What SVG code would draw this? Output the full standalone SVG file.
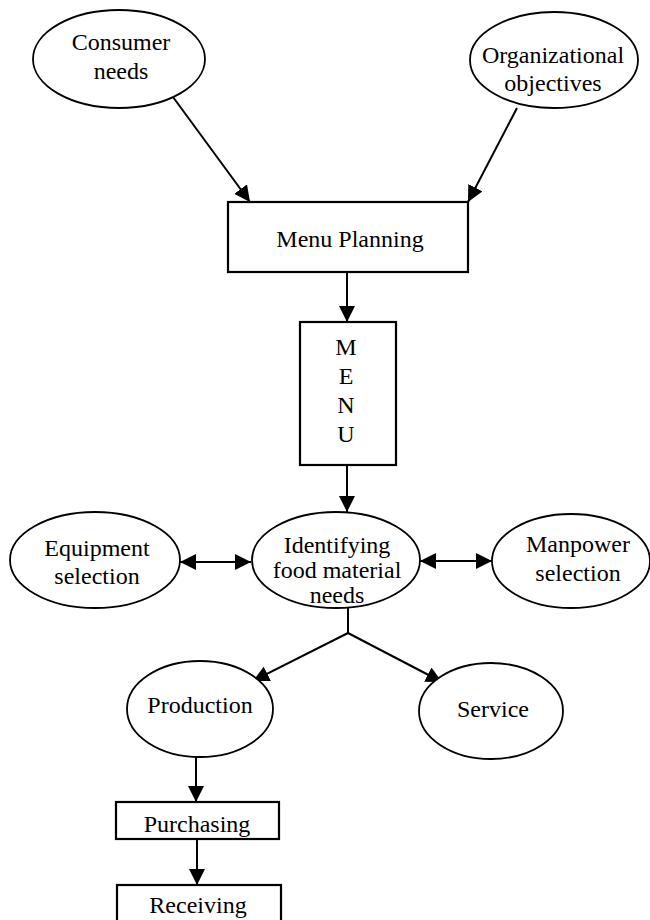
<svg xmlns="http://www.w3.org/2000/svg" width="650" height="920" viewBox="0 0 650 920">
<style>
  .node { fill: #ffffff; stroke: #000000; stroke-width: 1.8; }
  .box { fill: #ffffff; stroke: #000000; stroke-width: 2.2; }
  .lbl { font-family: "Liberation Serif", "Times New Roman", serif; font-size: 24px; fill: #000000; text-anchor: middle; }
  .edge { fill: none; stroke: #000000; stroke-width: 2; }
</style>
<defs>
  <marker id="arr" markerUnits="userSpaceOnUse" markerWidth="17" markerHeight="16" refX="16" refY="8" orient="auto-start-reverse" viewBox="0 0 17 16">
    <path d="M0,0 L16,8 L0,16 z" fill="#000000"/>
  </marker>
</defs>
<rect width="650" height="920" fill="#ffffff"/>

<g id="edges">
  <line class="edge" x1="173" y1="97" x2="250" y2="202" marker-end="url(#arr)"/>
  <line class="edge" x1="517" y1="108" x2="468" y2="202" marker-end="url(#arr)"/>
  <line class="edge" x1="347" y1="272" x2="347" y2="322" marker-end="url(#arr)"/>
  <line class="edge" x1="347" y1="465" x2="347" y2="512" marker-end="url(#arr)"/>
  <line class="edge" x1="180" y1="562" x2="251" y2="562" marker-start="url(#arr)" marker-end="url(#arr)"/>
  <line class="edge" x1="420" y1="561" x2="492" y2="561" marker-start="url(#arr)" marker-end="url(#arr)"/>
  <polyline class="edge" points="348,608 348,633"/>
  <line class="edge" x1="348" y1="633" x2="253" y2="681" marker-end="url(#arr)"/>
  <line class="edge" x1="348" y1="633" x2="442" y2="682" marker-end="url(#arr)"/>
  <line class="edge" x1="196" y1="757" x2="196" y2="802" marker-end="url(#arr)"/>
  <line class="edge" x1="197" y1="839" x2="197" y2="885" marker-end="url(#arr)"/>
</g>

<g id="consumer-needs">
  <ellipse class="node" cx="119" cy="59" rx="86" ry="49"/>
  <text class="lbl" x="121" y="50">Consumer</text>
  <text class="lbl" x="121" y="79">needs</text>
</g>

<g id="organizational-objectives">
  <ellipse class="node" cx="554" cy="60" rx="84" ry="48"/>
  <text class="lbl" x="553" y="63">Organizational</text>
  <text class="lbl" x="553" y="91">objectives</text>
</g>

<g id="menu-planning">
  <rect class="box" x="228" y="202" width="240" height="70"/>
  <text class="lbl" x="350" y="247">Menu Planning</text>
</g>

<g id="menu">
  <rect class="box" x="300" y="322" width="96" height="143"/>
  <text class="lbl" x="346" y="355">M</text>
  <text class="lbl" x="346" y="384">E</text>
  <text class="lbl" x="346" y="413">N</text>
  <text class="lbl" x="346" y="442">U</text>
</g>

<g id="equipment-selection">
  <ellipse class="node" cx="95" cy="560" rx="85" ry="48"/>
  <text class="lbl" x="97" y="556">Equipment</text>
  <text class="lbl" x="97" y="584">selection</text>
</g>

<g id="identifying-food-material-needs">
  <ellipse class="node" cx="336" cy="560" rx="84" ry="48"/>
  <text class="lbl" x="337" y="553">Identifying</text>
  <text class="lbl" x="337" y="578">food material</text>
  <text class="lbl" x="337" y="603">needs</text>
</g>

<g id="manpower-selection">
  <ellipse class="node" cx="571" cy="561" rx="79" ry="47"/>
  <text class="lbl" x="578" y="552">Manpower</text>
  <text class="lbl" x="578" y="581">selection</text>
</g>

<g id="production">
  <ellipse class="node" cx="200" cy="709" rx="73" ry="48"/>
  <text class="lbl" x="200" y="713">Production</text>
</g>

<g id="service">
  <ellipse class="node" cx="491" cy="711" rx="72" ry="48"/>
  <text class="lbl" x="493" y="717">Service</text>
</g>

<g id="purchasing">
  <rect class="box" x="116" y="802" width="163" height="37"/>
  <text class="lbl" x="197" y="832">Purchasing</text>
</g>

<g id="receiving">
  <rect class="box" x="117" y="885" width="164" height="45"/>
  <text class="lbl" x="198" y="913">Receiving</text>
</g>
</svg>
